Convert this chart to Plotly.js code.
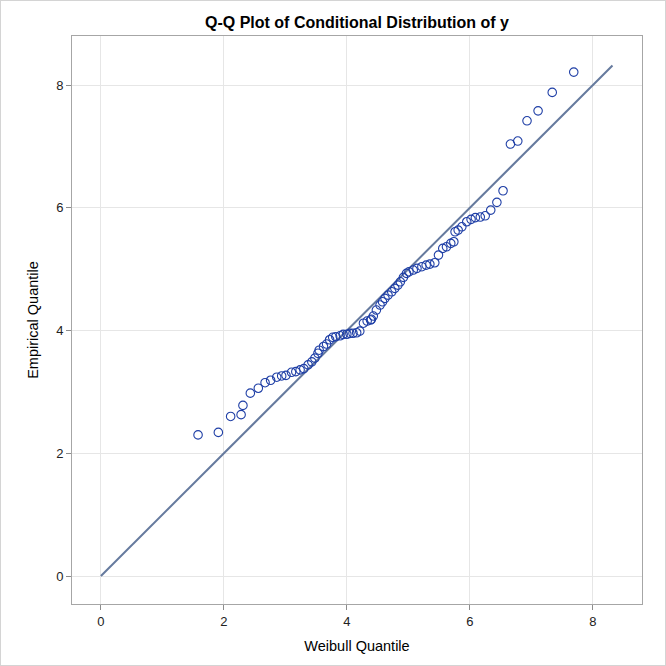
<!DOCTYPE html>
<html>
<head>
<meta charset="utf-8">
<script src="https://cdn.plot.ly/plotly-3.0.1.min.js"></script>
<style>
  html, body { margin: 0; padding: 0; background: #fff; }
  #wrap { width: 664px; height: 664px; border: 1px solid #d4d4d4; }
  #chart { width: 664px; height: 664px; }
</style>
</head>
<body>
<div id="wrap"><div id="chart"></div></div>
<script>
// Weibull theoretical quantiles (x) and empirical quantiles (y)
const weibullQuantile = [
  1.58, 1.91, 2.11, 2.28, 2.31, 2.43, 2.56, 2.67, 2.76, 2.86,
  2.94, 3.01, 3.10, 3.17, 3.24, 3.30, 3.37, 3.43, 3.48, 3.53,
  3.55, 3.62, 3.67, 3.72, 3.77, 3.82, 3.89, 3.94, 4.00, 4.05,
  4.10, 4.16, 4.21, 4.27, 4.33, 4.385, 4.40, 4.43, 4.48, 4.54,
  4.58, 4.62, 4.67, 4.73, 4.78, 4.83, 4.87, 4.92, 4.97, 5.01,
  5.08, 5.14, 5.22, 5.29, 5.35, 5.43, 5.49, 5.56, 5.62, 5.69,
  5.74, 5.76, 5.81, 5.87, 5.95, 6.02, 6.09, 6.17, 6.25, 6.34,
  6.44, 6.54, 6.66, 6.78, 6.93, 7.11, 7.34, 7.69
];
const empiricalQuantile = [
  2.30, 2.34, 2.60, 2.63, 2.78, 2.98, 3.06, 3.15, 3.19, 3.24,
  3.26, 3.27, 3.32, 3.33, 3.36, 3.38, 3.44, 3.49, 3.55, 3.63,
  3.68, 3.74, 3.78, 3.85, 3.89, 3.90, 3.915, 3.938, 3.940, 3.954,
  3.956, 3.964, 3.99, 4.12, 4.155, 4.171, 4.183, 4.236, 4.334, 4.416,
  4.469, 4.525, 4.578, 4.632, 4.688, 4.741, 4.795, 4.867, 4.932, 4.958,
  4.986, 5.013, 5.040, 5.067, 5.083, 5.105, 5.230, 5.339, 5.365, 5.421,
  5.447, 5.610, 5.637, 5.691, 5.773, 5.812, 5.840, 5.850, 5.870, 5.963,
  6.089, 6.278, 7.039, 7.088, 7.418, 7.580, 7.881, 8.212
];
// Reference line (location 0, scale 1)
const refLineX = [0, 8.32];
const refLineY = [0, 8.32];
const tickVals = [0, 2, 4, 6, 8];

const font = "Liberation Sans, Arial, sans-serif";

const traces = [
  {
    x: refLineX, y: refLineY, type: 'scatter', mode: 'lines',
    line: { color: '#667a9e', width: 2 }, hoverinfo: 'skip', showlegend: false
  },
  {
    x: weibullQuantile, y: empiricalQuantile, type: 'scatter', mode: 'markers',
    marker: { symbol: 'circle-open', size: 8.5, color: '#1f3fa6', line: { width: 1.1, color: '#1f3fa6' } },
    showlegend: false
  }
];

const axisCommon = {
  tickvals: tickVals,
  ticks: 'outside', ticklen: 5, tickwidth: 1, tickcolor: '#8c8c8c',
  showgrid: true, gridcolor: '#e6e6e6', gridwidth: 1,
  zeroline: false,
  showline: true, linecolor: '#a6a6a6', linewidth: 1, mirror: true,
  tickfont: { family: font, size: 13, color: '#222222' }
};

const layout = {
  width: 664, height: 664,
  margin: { l: 71, r: 23, t: 35, b: 61 },
  paper_bgcolor: '#ffffff', plot_bgcolor: '#ffffff',
  title: {
    text: '<b>Q-Q Plot of Conditional Distribution of y</b>',
    font: { family: font, size: 16, color: '#000000' },
    x: 0.5, xref: 'paper', y: 1 - 21 / 664, yref: 'container', yanchor: 'middle'
  },
  xaxis: Object.assign({}, axisCommon, {
    range: [-0.47, 8.80],
    title: { text: 'Weibull Quantile', font: { family: font, size: 14.5, color: '#000000' }, standoff: 13 }
  }),
  yaxis: Object.assign({}, axisCommon, {
    range: [-0.456, 8.80],
    title: { text: 'Empirical Quantile', font: { family: font, size: 14.5, color: '#000000' }, standoff: 14 }
  })
};

Plotly.newPlot('chart', traces, layout, { displayModeBar: false, staticPlot: true });
</script>
</body>
</html>
